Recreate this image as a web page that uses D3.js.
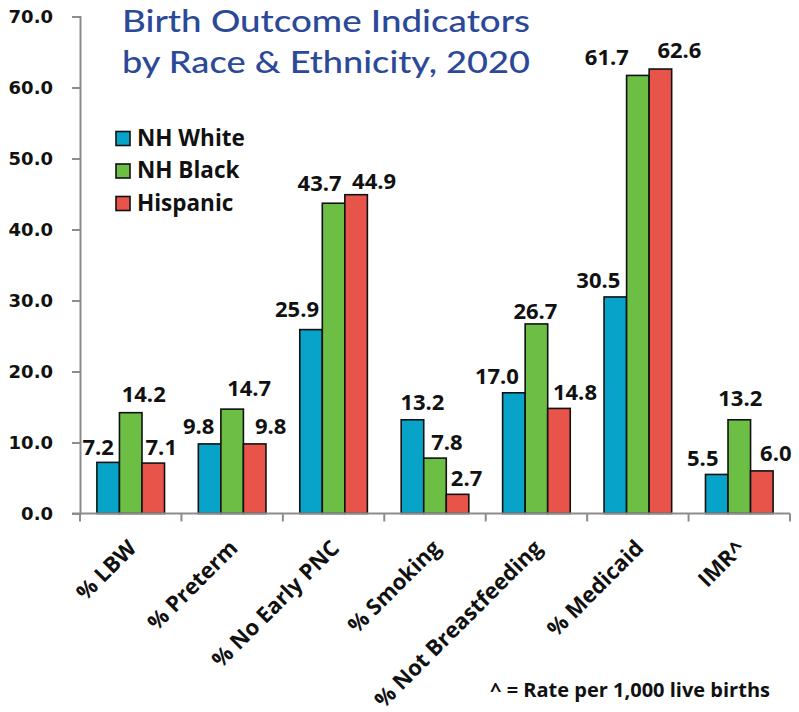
<!DOCTYPE html>
<html>
<head>
<meta charset="utf-8">
<script src="https://cdn.jsdelivr.net/npm/d3@7"></script>
<style>
  html, body { margin: 0; padding: 0; background: #fff; }
  svg { display: block; }
</style>
</head>
<body>
<svg id="chart" width="799" height="712"></svg>
<script>
// ---- data ----
const categories = ["% LBW", "% Preterm", "% No Early PNC", "% Smoking", "% Not Breastfeeding", "% Medicaid", "IMR^"];
const seriesNames = ["NH White", "NH Black", "Hispanic"];
const nhWhite  = [7.2, 9.8, 25.9, 13.2, 17.0, 30.5, 5.5];
const nhBlack  = [14.2, 14.7, 43.7, 7.8, 26.7, 61.7, 13.2];
const hispanic = [7.1, 9.8, 44.9, 2.7, 14.8, 62.6, 6.0];
const yTicks = [0, 10, 20, 30, 40, 50, 60, 70];
const titleLines = ["Birth Outcome Indicators", "by Race & Ethnicity, 2020"];
const footnote = "^ = Rate per 1,000 live births";

// ---- layout / style (not data) ----
const colors = ["#07A3C9", "#6CBE45", "#E9544A"];
// label nudges [dx, dy] relative to bar center / bar top, per series per category
const labelNudge = [
  [[-10,-7],[-11,-10],[-14,-13],[10,-10],[-17,-9],[-17,-9],[-14,-8]],
  [[13,-11],[17,-13],[-14,-12],[12,-8],[-1,-5],[-31,-10],[1,-14]],
  [[8,-8],[16,-10],[18,-6],[9,-8],[16,-8],[19,-11],[14,-10]]
];

const values = [nhWhite, nhBlack, hispanic];
const svg = d3.select("#chart");
svg.append("rect").attr("width", 799).attr("height", 712).attr("fill", "#fff");

const mLeft = 80, mRight = 790, mTop = 16.5, mBottom = 513.5;
const x0 = d3.scaleBand().domain(categories).range([mLeft, mRight]).paddingInner(0).paddingOuter(0);
const x1 = d3.scaleBand().domain(seriesNames).range([0, x0.bandwidth()]).paddingInner(0).paddingOuter(0.75);
const y = d3.scaleLinear().domain([0, 70]).range([mBottom, mTop]);

// title
const title = svg.append("g");
titleLines.forEach((t, i) => {
  title.append("text")
    .attr("x", 122).attr("y", 32 + i * 41)
    .attr("font-family", "Lato, 'Open Sans', sans-serif")
    .attr("font-size", 31).attr("font-weight", 500)
    .attr("fill", "#2C4999")
    .attr("textLength", 408).attr("lengthAdjust", "spacingAndGlyphs")
    .text(t);
});

// bars
const groups = svg.append("g").selectAll("g")
  .data(categories).join("g")
  .attr("transform", d => `translate(${x0(d)},0)`);

groups.selectAll("rect")
  .data((c, ci) => seriesNames.map((s, si) => ({ s, si, ci, v: values[si][ci] })))
  .join("rect")
  .attr("x", d => x1(d.s))
  .attr("y", d => y(d.v))
  .attr("width", x1.bandwidth())
  .attr("height", d => y(0) - y(d.v))
  .attr("fill", d => colors[d.si])
  .attr("stroke", "#111")
  .attr("stroke-width", 1.6);

// y axis
const yAxis = d3.axisLeft(y).tickValues(yTicks).tickFormat(d3.format(".1f")).tickSize(8).tickPadding(19);
const gy = svg.append("g").attr("transform", `translate(${mLeft},0)`).call(yAxis);
gy.select(".domain").attr("stroke", "#8c8c8c").attr("stroke-width", 2);
gy.selectAll(".tick line").attr("stroke", "#8c8c8c").attr("stroke-width", 2);
gy.selectAll(".tick text")
  .attr("font-family", "'DejaVu Sans', Verdana, sans-serif")
  .attr("font-weight", "bold").attr("font-size", 18).attr("fill", "#111")
  .attr("dy", "0.36em");

// x axis
const gx = svg.append("g").attr("transform", `translate(0,${mBottom})`);
gx.append("line").attr("x1", mLeft - 8).attr("x2", mRight).attr("y1", 0).attr("y2", 0)
  .attr("stroke", "#8c8c8c").attr("stroke-width", 2);
const bounds = categories.map(c => x0(c)).concat([mRight]);
gx.selectAll("line.tk").data(bounds).join("line").attr("class", "tk")
  .attr("x1", d => d).attr("x2", d => d).attr("y1", 0).attr("y2", 8)
  .attr("stroke", "#8c8c8c").attr("stroke-width", 2);

svg.append("g").selectAll("text")
  .data(categories).join("text")
  .attr("transform", d => `translate(${x0(d) + x0.bandwidth() / 2 + 7},${mBottom + 36}) rotate(-45)`)
  .attr("text-anchor", "end")
  .attr("font-family", "'Open Sans', sans-serif")
  .attr("font-weight", "bold").attr("font-size", 22).attr("fill", "#111")
  .text(d => d);

// value labels
groups.selectAll("text.val")
  .data((c, ci) => seriesNames.map((s, si) => ({ s, si, ci, v: values[si][ci] })))
  .join("text").attr("class", "val")
  .attr("x", d => x1(d.s) + x1.bandwidth() / 2 + labelNudge[d.si][d.ci][0])
  .attr("y", d => y(d.v) + labelNudge[d.si][d.ci][1])
  .attr("text-anchor", "middle")
  .attr("font-family", "'Open Sans', sans-serif")
  .attr("font-weight", "bold").attr("font-size", 22).attr("fill", "#111")
  .text(d => d3.format(".1f")(d.v));

// legend
const legend = svg.append("g").selectAll("g")
  .data(seriesNames).join("g")
  .attr("transform", (d, i) => `translate(116,${131.5 + i * 32.5})`);
legend.append("rect").attr("width", 14).attr("height", 14)
  .attr("fill", (d, i) => colors[i]).attr("stroke", "#111").attr("stroke-width", 1.6);
legend.append("text").attr("x", 21).attr("y", 14)
  .attr("font-family", "'Open Sans', sans-serif")
  .attr("font-weight", "bold").attr("font-size", 22.5).attr("fill", "#111")
  .text(d => d);

// footnote
svg.append("text").attr("x", 490).attr("y", 697)
  .attr("font-family", "'Open Sans', sans-serif")
  .attr("font-weight", "bold").attr("font-size", 19).attr("fill", "#111")
  .attr("textLength", 280).attr("lengthAdjust", "spacingAndGlyphs")
  .text(footnote);
</script>
</body>
</html>
